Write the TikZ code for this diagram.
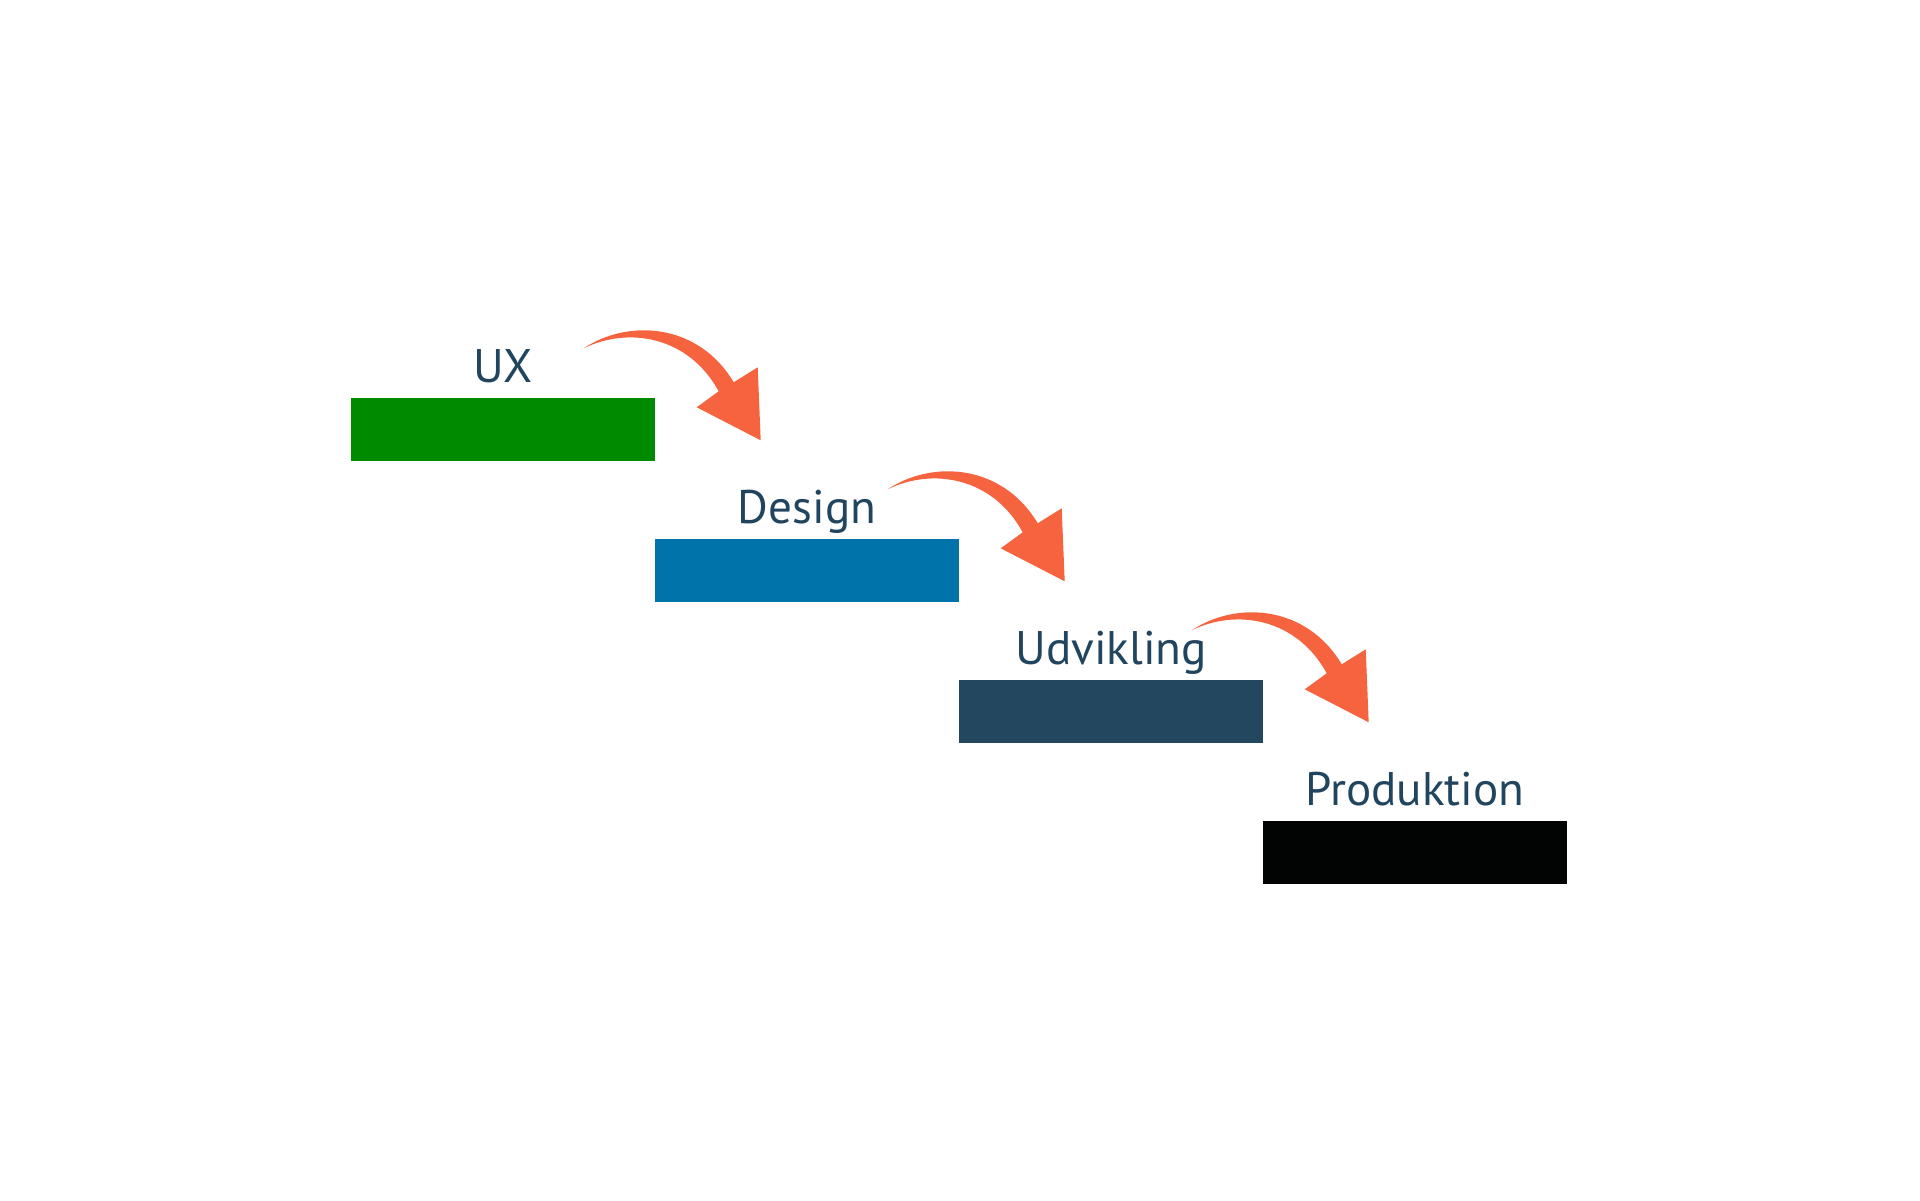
\documentclass[tikz,border=0pt]{standalone}
\usepackage{fontspec}
\newfontfamily\stepfont{PT Sans}
\usetikzlibrary{positioning}
\definecolor{uxgreen}{HTML}{008A00}
\definecolor{designblue}{HTML}{0073AA}
\definecolor{devdark}{HTML}{23475F}
\definecolor{prodblack}{HTML}{020404}
\definecolor{labelblue}{HTML}{21455E}
\definecolor{arroworange}{HTML}{F6643F}
\tikzset{
  stepbar/.style={
    rectangle,inner sep=0pt,minimum width=3.04cm,minimum height=0.63cm,
  },
  steplabel/.style={
    inner sep=0pt,text=labelblue,font=\stepfont\fontsize{13.4}{16}\selectfont,
  },
  steparrow/.pic={
    \fill[arroworange] (0,0)
      .. controls (0.45,0.30) and (1.15,0.25) .. (1.50,-0.34)
      -- (1.74,-0.19) -- (1.77,-0.92) -- (1.13,-0.59) -- (1.35,-0.43)
      .. controls (1.05,0.12) and (0.45,0.22) .. cycle;
  },
}

\begin{document}
\begin{tikzpicture}
    \useasboundingbox (0,0) rectangle (19.2,12);
    % bars
    \node [stepbar, fill=uxgreen] (ux) at (5.03,7.705) {};
    \node [stepbar, fill=designblue] (design) at (8.07,6.295) {};
    \node [stepbar, fill=devdark] (udvikling) at (11.11,4.885) {};
    \node [stepbar, fill=prodblack] (produktion) at (14.15,3.475) {};
    % labels
    \node [steplabel, above=0.15cm of ux, anchor=base] (tux) {UX};
    \node [steplabel, above=0.15cm of design, anchor=base] (tdesign) {Design};
    \node [steplabel, above=0.15cm of udvikling, anchor=base] (tudvikling) {Udvikling};
    \node [steplabel, above=0.15cm of produktion, anchor=base] (tproduktion) {Produktion};
    % arrows
    \foreach \s in {ux,design,udvikling}
        \pic at ([shift={(-0.72,0.49)}]\s.north east) {steparrow};
\end{tikzpicture}
\end{document}
